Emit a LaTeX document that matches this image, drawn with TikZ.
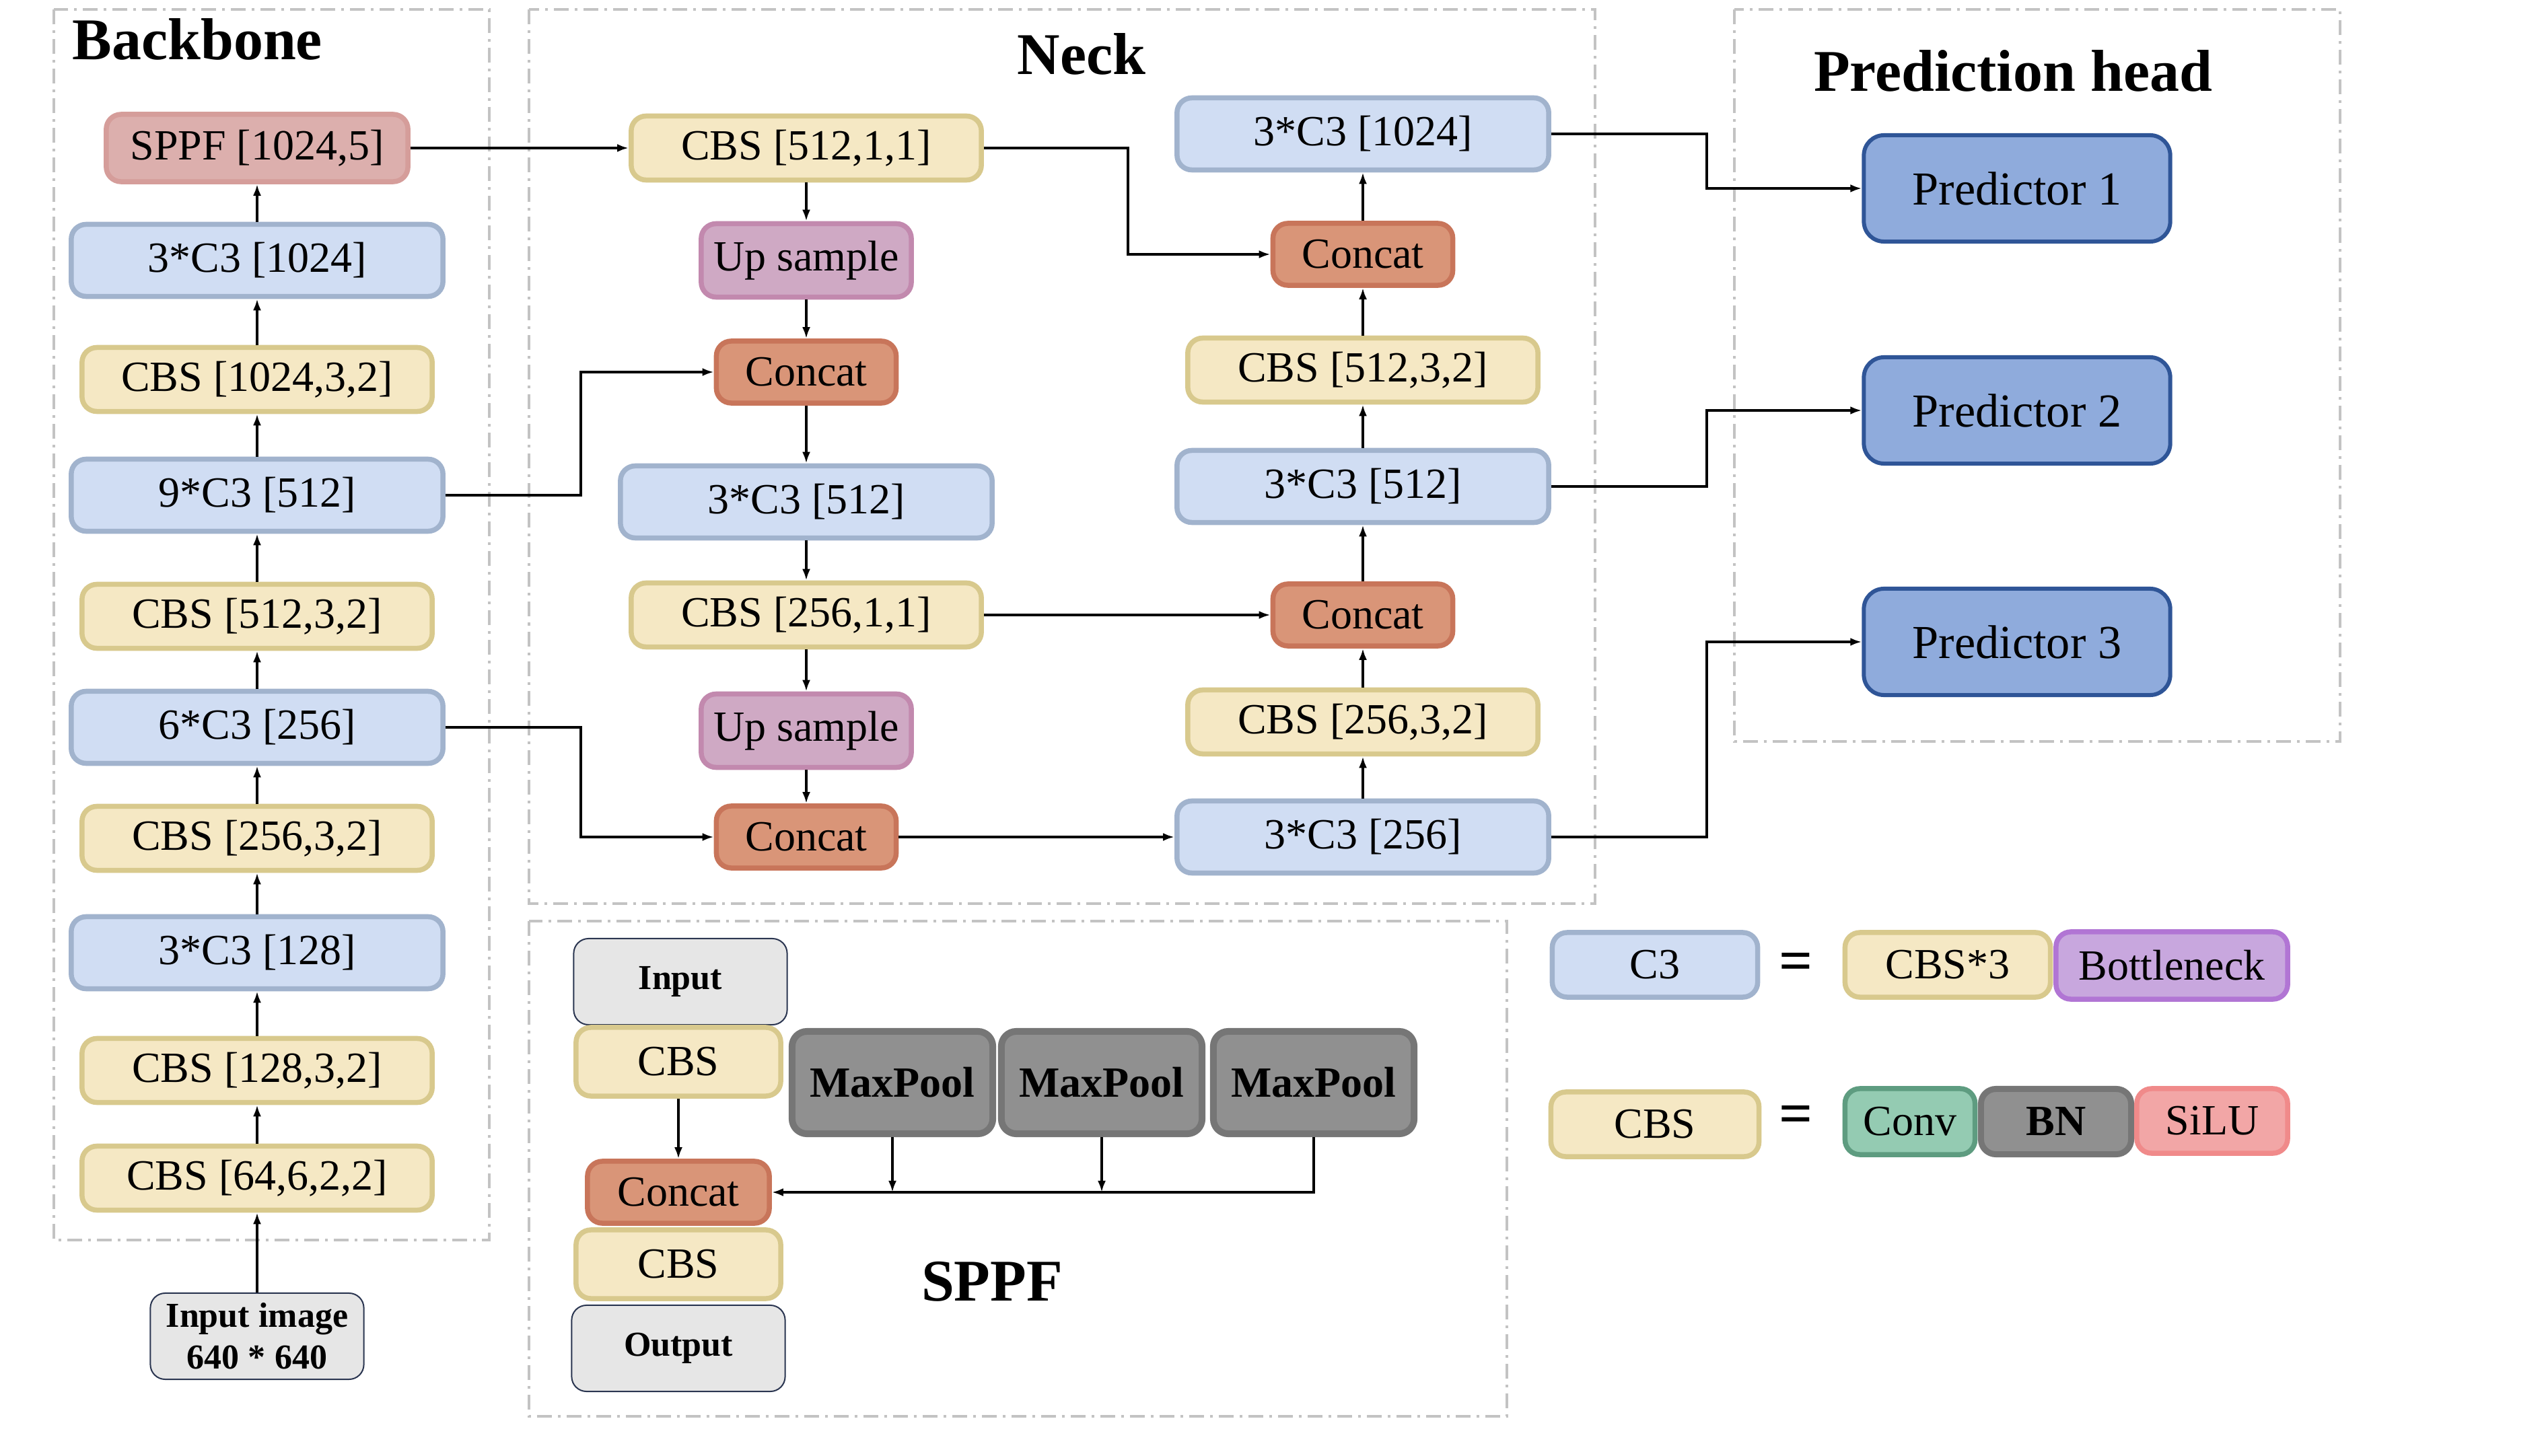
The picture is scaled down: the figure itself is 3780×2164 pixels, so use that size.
\documentclass[tikz,border=0pt]{standalone}
\usepackage{fontspec}
\setmainfont{Liberation Serif}
\usetikzlibrary{arrows.meta,calc}
\definecolor{cbsF}{HTML}{F5E8C4}
\definecolor{cbsD}{HTML}{D8C98D}
\definecolor{c3F}{HTML}{D0DDF3}
\definecolor{c3D}{HTML}{A1B3CD}
\definecolor{spF}{HTML}{DCAFAD}
\definecolor{spD}{HTML}{D59D9A}
\definecolor{upF}{HTML}{CFA9C4}
\definecolor{upD}{HTML}{C289AE}
\definecolor{ccF}{HTML}{D99578}
\definecolor{ccD}{HTML}{C8755A}
\definecolor{prF}{HTML}{8FABDC}
\definecolor{prD}{HTML}{2F5597}
\definecolor{inF}{HTML}{E6E6E6}
\definecolor{inD}{HTML}{2A3550}
\definecolor{mpF}{HTML}{909090}
\definecolor{mpD}{HTML}{767676}
\definecolor{cvF}{HTML}{94CBB2}
\definecolor{cvD}{HTML}{5E9C80}
\definecolor{siF}{HTML}{F2A6A6}
\definecolor{siD}{HTML}{F08A8A}
\definecolor{btF}{HTML}{C8A7DE}
\definecolor{btD}{HTML}{B175D4}
\definecolor{dashG}{HTML}{C3C3C3}
\newcommand\bxfont{\fontsize{18.2pt}{21pt}\selectfont}
\newcommand\ttlfont{\fontsize{25pt}{30pt}\selectfont\bfseries}
\newcommand\inpfont{\fontsize{14.8pt}{17.6pt}\selectfont\bfseries}
\newcommand\prfont{\fontsize{20pt}{24pt}\selectfont}
\newcommand\eqfont{\fontsize{25pt}{28pt}\selectfont\bfseries}
\tikzset{
  x=0.01cm, y=-0.01cm,
  box/.style={rounded corners=0.22cm, line width=0.075cm, inner sep=0pt, align=center, font=\bxfont},
  cbsb/.style={box, fill=cbsF, draw=cbsD, minimum width=5.2cm, minimum height=0.95cm},
  c3b/.style={box, fill=c3F, draw=c3D, minimum width=5.52cm, minimum height=1.07cm},
  sppfb/.style={box, fill=spF, draw=spD, minimum width=4.48cm, minimum height=1.0cm},
  ups/.style={box, fill=upF, draw=upD, minimum width=3.12cm, minimum height=1.09cm},
  cc/.style={box, fill=ccF, draw=ccD, minimum width=2.67cm, minimum height=0.92cm},
  pred/.style={box, fill=prF, draw=prD, line width=0.06cm, rounded corners=0.3cm, font=\prfont, minimum width=4.55cm, minimum height=1.58cm},
  inbox/.style={box, fill=inF, draw=inD, line width=0.02cm, font=\inpfont, minimum width=3.17cm, minimum height=1.28cm},
  scbs/.style={box, fill=cbsF, draw=cbsD, minimum width=3.04cm, minimum height=1.02cm},
  mpbox/.style={box, fill=mpF, draw=mpD, line width=0.1cm, font=\bxfont\bfseries, minimum width=2.98cm, minimum height=1.52cm},
  lgbox/.style={box, minimum height=0.96cm},
  arr/.style={line width=0.035cm, -{Latex[length=0.17cm,width=0.12cm]}},
  frame/.style={draw=dashG, line width=0.045cm, dash pattern=on 0.22cm off 0.09cm on 0.04cm off 0.09cm},
  ttl/.style={font=\ttlfont, inner sep=0pt}
}
\begin{document}
\begin{tikzpicture}
\useasboundingbox (0,0) rectangle (3780,2164);
% frames
\draw[frame] (80,14) rectangle (727,1843);
\draw[frame] (786,14) rectangle (2370,1343);
\draw[frame] (2577,14) rectangle (3477,1102);
\draw[frame] (786,1369) rectangle (2239,2105);
% titles
\node[ttl, anchor=base west] (tbb) at (107,89) {Backbone};
\node[ttl, anchor=base] (tneck) at (1607,111) {Neck};
\node[ttl, anchor=base] (tph) at (2991,136) {Prediction head};
\node[ttl, anchor=base] (tsppf) at (1474,1933) {SPPF};
% backbone
\node[sppfb] (bsppf) at (382,220) {SPPF [1024,5]};
\node[c3b] (bc31024) at (382,387) {3*C3 [1024]};
\node[cbsb] (bcbs1024) at (382,564) {CBS [1024,3,2]};
\node[c3b] (bc3512) at (382,736) {9*C3 [512]};
\node[cbsb] (bcbs512) at (382,916) {CBS [512,3,2]};
\node[c3b] (bc3256) at (382,1081) {6*C3 [256]};
\node[cbsb] (bcbs256) at (382,1246) {CBS [256,3,2]};
\node[c3b] (bc3128) at (382,1416) {3*C3 [128]};
\node[cbsb] (bcbs128) at (382,1591) {CBS [128,3,2]};
\node[cbsb] (bcbs64) at (382,1751) {CBS [64,6,2,2]};
\node[inbox] (inimg) at (382,1986) {Input image\\640 * 640};
\foreach \a/\b in {inimg/bcbs64, bcbs64/bcbs128, bcbs128/bc3128, bc3128/bcbs256, bcbs256/bc3256, bc3256/bcbs512, bcbs512/bc3512, bc3512/bcbs1024, bcbs1024/bc31024, bc31024/bsppf}
  \draw[arr] (\a) -- (\b);
% neck
\node[cbsb] (ncbs1) at (1198,220) {CBS [512,1,1]};
\node[ups] (nup1) at (1198,387) {Up sample};
\node[cc] (ncc1) at (1198,553) {Concat};
\node[c3b] (nc3a) at (1198,746) {3*C3 [512]};
\node[cbsb] (ncbs2) at (1198,914) {CBS [256,1,1]};
\node[ups] (nup2) at (1198,1086) {Up sample};
\node[cc] (ncc2) at (1198,1244) {Concat};
\node[c3b] (nc3b) at (2025,1244) {3*C3 [256]};
\node[cbsb] (ncbs3) at (2025,1073) {CBS [256,3,2]};
\node[cc] (ncc3) at (2025,914) {Concat};
\node[c3b] (nc3c) at (2025,723) {3*C3 [512]};
\node[cbsb] (ncbs4) at (2025,550) {CBS [512,3,2]};
\node[cc] (ncc4) at (2025,378) {Concat};
\node[c3b] (nc3d) at (2025,199) {3*C3 [1024]};
\draw[arr] (bsppf) -- (ncbs1);
\foreach \a/\b in {ncbs1/nup1, nup1/ncc1, ncc1/nc3a, nc3a/ncbs2, ncbs2/nup2, nup2/ncc2, ncc2/nc3b, ncbs2/ncc3, nc3b/ncbs3, ncbs3/ncc3, ncc3/nc3c, nc3c/ncbs4, ncbs4/ncc4, ncc4/nc3d}
  \draw[arr] (\a) -- (\b);
\draw[arr] (bc3512.east) -- (863,736) |- (ncc1.west);
\draw[arr] (bc3256.east) -- (863,1081) |- (ncc2.west);
\draw[arr] (ncbs1.east) -- (1676,220) |- (ncc4.west);
% prediction head
\node[pred] (pred1) at (2997,280) {Predictor 1};
\node[pred] (pred2) at (2997,610) {Predictor 2};
\node[pred] (pred3) at (2997,954) {Predictor 3};
\draw[arr] (nc3d.east) -- (2536,199) |- (pred1.west);
\draw[arr] (nc3c.east) -- (2536,723) |- (pred2.west);
\draw[arr] (nc3b.east) -- (2536,1244) |- (pred3.west);
% SPPF detail
\node[inbox] (sin) at (1011,1459) {Input};
\node[scbs] (scbs1) at (1008,1578) {CBS};
\node[cc, minimum width=2.7cm] (scc) at (1008,1772) {Concat};
\node[scbs] (scbs2) at (1008,1879) {CBS};
\node[inbox] (sout) at (1008,2004) {Output};
\node[mpbox] (mp1) at (1326,1609) {MaxPool};
\node[mpbox] (mp2) at (1637,1609) {MaxPool};
\node[mpbox] (mp3) at (1952,1609) {MaxPool};
\draw[arr] (scbs1) -- (scc);
\draw[arr] (mp3.south) -- (mp3.south |- scc.east) -- (scc.east);
\draw[arr] (mp1.south) -- (mp1.south |- scc.east);
\draw[arr] (mp2.south) -- (mp2.south |- scc.east);
% legend
\node[lgbox, fill=c3F, draw=c3D, minimum width=3.05cm] (lc3) at (2459,1434) {C3};
\node[font=\eqfont, inner sep=0pt] (leq1) at (2669,1437) {=};
\node[lgbox, fill=cbsF, draw=cbsD, minimum width=3.05cm] (lcbs3) at (2894,1434) {CBS*3};
\node[lgbox, fill=btF, draw=btD, minimum width=3.44cm, minimum height=1.0cm] (lbt) at (3227,1435) {Bottleneck};
\node[lgbox, fill=cbsF, draw=cbsD, minimum width=3.09cm] (lcbs) at (2459,1671) {CBS};
\node[font=\eqfont, inner sep=0pt] (leq2) at (2669,1664) {=};
\node[lgbox, fill=cvF, draw=cvD, minimum width=1.93cm, minimum height=0.98cm] (lconv) at (2838,1667) {Conv};
\node[lgbox, fill=mpF, draw=mpD, line width=0.09cm, minimum width=2.23cm, minimum height=0.97cm, font=\bxfont\bfseries] (lbn) at (3055,1667) {BN};
\node[lgbox, fill=siF, draw=siD, minimum width=2.24cm, minimum height=0.96cm] (lsilu) at (3287,1666) {SiLU};
\end{tikzpicture}
\end{document}
